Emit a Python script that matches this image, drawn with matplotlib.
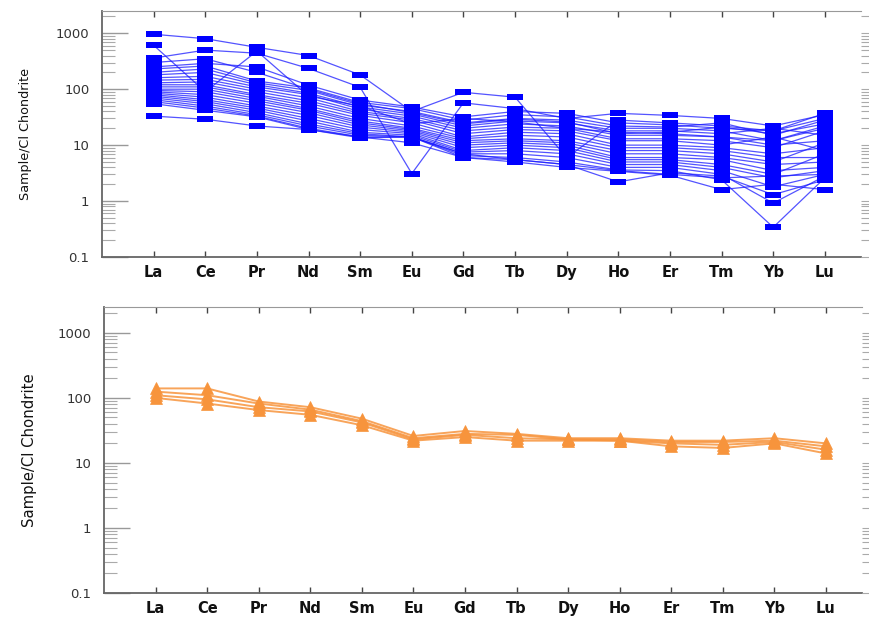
import matplotlib.pyplot as plt
from matplotlib.ticker import LogLocator, NullFormatter, FixedLocator, FixedFormatter

# elementos (tierras raras) normalizados a condrita CI
elementos = ['La', 'Ce', 'Pr', 'Nd', 'Sm', 'Eu', 'Gd', 'Tb', 'Dy', 'Ho', 'Er', 'Tm', 'Yb', 'Lu']

# muestras del panel superior (azul)
muestras_azul = [
    [960, 800, 560, 400, 180, 40, 88, 72, 6, 28, 25, 22, 18, 30],
    [610, 90, 480, 75, 50, 24, 30, 26, 20, 17, 16, 14, 12, 20],
    [360, 500, 440, 235, 108, 3.1, 57, 45, 30, 37, 34, 30, 22, 35],
    [250, 290, 250, 118, 64, 48, 32, 40, 37, 25, 23, 20, 18, 37],
    [300, 350, 200, 100, 55, 38, 24, 29, 26, 16, 17, 21, 16, 24],
    [230, 260, 140, 105, 58, 45, 28, 35, 32, 22, 21, 25, 15, 28],
    [200, 230, 130, 95, 52, 40, 25, 30, 28, 20, 20, 18, 12, 22],
    [180, 200, 120, 85, 48, 36, 22, 27, 25, 18, 18, 16, 20, 15],
    [160, 170, 110, 80, 44, 33, 20, 24, 22, 15, 15, 14, 10, 12],
    [145, 150, 100, 70, 40, 30, 18, 21, 20, 13, 13, 12, 9, 18],
    [130, 135, 90, 62, 37, 28, 16, 19, 18, 12, 12, 10, 14, 8],
    [120, 120, 80, 56, 34, 25, 14, 17, 16, 10, 10, 9, 7, 9],
    [110, 110, 75, 50, 30, 22, 13, 15, 14, 9, 9, 8, 6, 6],
    [100, 100, 68, 45, 27, 20, 12, 13, 12, 8, 8, 7, 5, 11],
    [95, 90, 62, 42, 25, 19, 11, 12, 11, 7, 7, 6, 4.5, 5],
    [90, 80, 56, 38, 23, 18, 10, 11, 10, 6, 6, 5.5, 3.5, 4],
    [85, 72, 50, 34, 21, 17, 9, 10, 9, 5.5, 5.5, 4.5, 3, 7],
    [80, 65, 46, 30, 19, 16, 8, 9, 8, 5, 5, 4, 2.6, 3.5],
    [75, 60, 42, 27, 17, 15, 7.5, 8, 7, 4.5, 4.5, 3.5, 1.8, 3],
    [70, 55, 38, 24, 16, 14, 7, 7, 6, 4, 4, 3, 0.92, 2.8],
    [65, 50, 35, 22, 15, 14, 6.5, 6, 5, 3.6, 3.5, 2.4, 0.34, 2.6],
    [60, 46, 33, 20, 14, 11, 6, 5.5, 4.5, 2.2, 3.2, 2.8, 1.3, 2.4],
    [55, 42, 32, 19, 13.5, 14, 6, 5, 4, 3.4, 2.9, 1.6, 2.0, 1.6],
    [33, 29, 22, 19, 14, 14, 7, 5.5, 4.5, 3.5, 3, 2.6, 2.8, 3],
]

# muestras del panel inferior (naranja)
muestras_naranja = [
    [140, 140, 88, 72, 48, 26, 31, 28, 24, 24, 22, 22, 24, 20],
    [125, 110, 82, 66, 44, 24, 28, 27, 23, 23, 21, 21, 22, 18],
    [110, 95, 72, 62, 42, 23, 27, 24, 23, 22, 20, 19, 21, 16],
    [100, 82, 65, 55, 38, 22, 25, 22, 22, 22, 18, 17, 20, 14],
]

etiquetas_y = ['0.1', '1', '10', '100', '1000']
valores_y = [0.1, 1, 10, 100, 1000]

W, H = 870, 622
fig = plt.figure(figsize=(W / 100, H / 100), dpi=100)
ax1 = fig.add_axes([102 / W, 1 - 257 / H, (861 - 102) / W, (257 - 11) / H])
ax2 = fig.add_axes([104 / W, 1 - 593 / H, (862 - 104) / W, (593 - 307) / H])

x = list(range(len(elementos)))
rect = [(-1, -0.45), (1, -0.45), (1, 0.45), (-1, 0.45), (-1, -0.45)]

for m in muestras_azul:
    ax1.plot(x, m, color=(0.1, 0.1, 1.0, 0.75), lw=0.9,
             marker=rect, markersize=11, mfc='#0000ff', mec='#0000ff', mew=0)

for m in muestras_naranja:
    ax2.plot(x, m, color=(0.97, 0.58, 0.24, 0.85), lw=1.4,
             marker='^', markersize=8, mfc='#f7943c', mec='#f7943c', mew=0.5)

for ax, tam, lp in [(ax1, 9.2, 17), (ax2, 10.7, 15)]:
    ax.set_yscale('log')
    ax.set_ylim(0.1, 2500)
    ax.set_xlim(-1, 13.7)
    ax.yaxis.set_major_locator(FixedLocator(valores_y))
    ax.yaxis.set_major_formatter(FixedFormatter(etiquetas_y))
    ax.yaxis.set_minor_locator(LogLocator(base=10, subs=range(2, 10)))
    ax.yaxis.set_minor_formatter(NullFormatter())
    ax.set_xticks(x)
    ax.set_xticklabels(elementos, fontweight='bold', fontsize=10.5, color='#111111')
    ax.tick_params(axis='x', which='both', direction='in', top=True, bottom=True,
                   length=4, width=1, color='#444444', pad=6)
    ax.tick_params(axis='y', which='major', direction='in', left=True, right=False,
                   length=19, width=1, color='#999999', pad=9,
                   labelsize=9.5, labelcolor='#333333')
    ax.tick_params(axis='y', which='minor', direction='in', left=True, right=False,
                   length=9, width=0.8, color='#aaaaaa')
    ax.spines['right'].set_visible(False)
    ax.spines['top'].set_color('#999999')
    ax.spines['left'].set_color('#666666')
    ax.spines['bottom'].set_color('#666666')
    ax.spines['left'].set_linewidth(1.3)
    ax.spines['bottom'].set_linewidth(1.3)
    ax.set_ylabel('Sample/Cl Chondrite', fontsize=tam, color='#111111', labelpad=lp)

    # marcas del lado derecho, hacia afuera
    axr = ax.twinx()
    axr.set_yscale('log')
    axr.set_ylim(0.1, 2500)
    axr.yaxis.set_major_locator(FixedLocator(valores_y))
    axr.yaxis.set_minor_locator(LogLocator(base=10, subs=range(2, 10)))
    axr.yaxis.set_major_formatter(NullFormatter())
    axr.yaxis.set_minor_formatter(NullFormatter())
    axr.tick_params(axis='y', which='both', direction='out', length=6.5,
                    width=0.8, color='#aaaaaa', labelright=False)
    for s in axr.spines.values():
        s.set_visible(False)

fig.savefig('out.png', dpi=100)
